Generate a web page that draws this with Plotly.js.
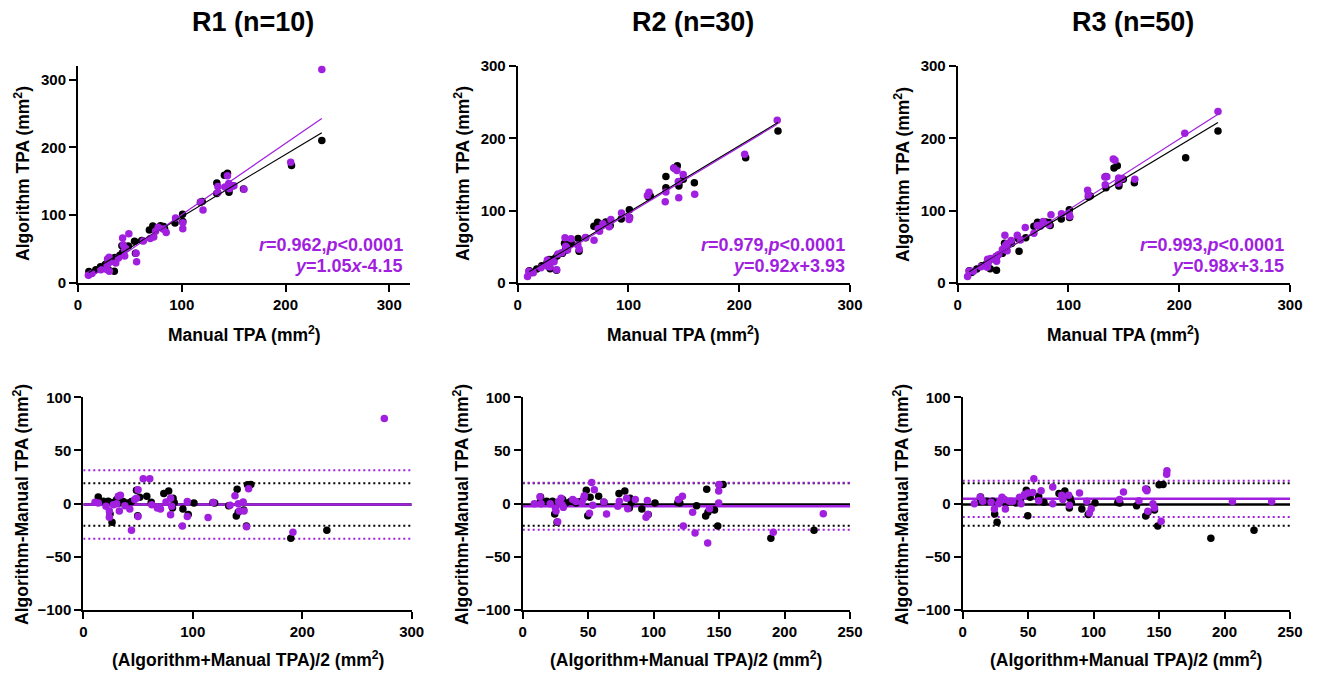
<!DOCTYPE html>
<html>
<head>
<meta charset="utf-8">
<script src="https://cdn.plot.ly/plotly-3.0.1.min.js"></script>
<style>html,body{margin:0;padding:0;background:#fff;}#chart{width:1317px;height:675px;}</style>
</head>
<body>
<div id="chart"></div>
<script>
// ---- Data ----
const panelTitles = ['R1 (n=10)', 'R2 (n=30)', 'R3 (n=50)'];

// Reference series (black), common to all panels: manual TPA and algorithm TPA (mm^2)
const manualRef = [10.5,12.5,17.2,21.7,26.3,29.3,35,28.6,32.7,35.5,40.4,43,42.3,55.4,48.5,54.5,61.4,68.8,72.1,79.5,82.5,83.5,93.5,101,100.8,118,119.7,133.8,145.5,133.8,145.5,149.5,159.5,141.1,144.1,205.8,235];
const algoRef   = [16.8,14.5,19.4,23.9,27.3,19.6,17.5,32.4,33.3,37.5,41,45,54.8,44,54.5,61.5,62.7,78.3,83.9,84.5,83.5,79.5,88.5,90.7,101.3,119,120.3,131.8,134,147.3,137.5,143.5,138.5,158.9,162,173.3,210];

// R1 (purple)
const manualR1 = [10,13.4,22,27.3,30.2,28,30.5,28.5,36.4,30,39,45,56.5,45,46,43.5,56,43,49,63,69.6,73,74.8,77.3,82,85,101,94,101,120.5,118.3,134.8,134.8,141.6,146,145.3,150.3,160,144,205,235];
const algoR1   = [11.4,14,19.5,20.3,17.4,27,30.5,35.5,29.4,37.8,37,40,31.5,49,51,56.5,44,66.5,72.5,62,65.6,68,76.3,82.3,79.5,74.5,80,96,89,107.5,119.3,133.3,142.3,141.6,139,146.8,143.3,138.2,158,178,315];

// R2 (purple)
const manualR2 = [8.9,10,14,21,27,29,35.2,26.5,26.8,30.5,32.8,36.3,39.7,45,44.1,43.3,55.5,42.7,54.3,48.2,61.2,68.9,73.9,72.7,76.9,82.6,84.1,100.6,100.7,93.7,117.1,118.5,133.2,133.8,145.4,159.8,145,149.4,143.7,141,204.9,234.3];
const algoR2   = [8.9,16.4,14,21,23,22,18.2,28.5,31.8,29.5,29.3,40.1,41.7,45.6,49.1,50.8,46.5,62.7,52.7,61.2,62.8,59.2,71.4,74.9,81.9,77.9,87.9,87.8,90.4,96.7,120.9,125.5,112.2,125.8,117.9,122.8,140.3,150,155.7,159,177.9,224.9];

// R3 (purple)
const manualR3 = [8.9,10.2,14.2,21,26.7,27.5,27.4,27,30,35.1,34.6,37.1,40.3,44.6,42.9,44.7,48.2,42.6,56.7,53.8,61,68.8,71.8,74.6,77.1,82.3,84.2,93.7,101.2,100.5,117.9,117.3,133.2,132.8,134.6,145,145.3,148.5,159.9,140.5,142,205,235];
const algoR3   = [8.9,16.5,16.4,22.3,21.7,27.5,29.6,33,33.8,30.1,36.8,39.3,46.3,44.6,51.4,54.7,58.8,66.1,59.5,66,76.6,68.8,79.6,78.4,84.9,80.7,94.2,95.9,92.4,95.8,121.7,128.3,136,146.6,146.8,137.8,145.3,144.5,143.3,171.5,169.6,207,237];

// Correlation / regression results printed in each panel (purple)
const rValues = ['0.962', '0.979', '0.993'];
const slopes = [1.05, 0.92, 0.98];
const intercepts = [-4.15, 3.93, 3.15];

// Bland-Altman bias and 95% limits of agreement
const biasRef = -0.8, lowerRef = -20.7, upperRef = 19.1;
const biasR = [-0.8, -2.4, 4.5];
const lowerR = [-32.9, -24.5, -12.5];
const upperR = [31.3, 19.7, 21.6];

// ---- Styling ----
const FONT = 'Arial, "Liberation Sans", sans-serif';
const PURPLE = '#a11fde';
const BLACK = '#000000';
const W = 1317, H = 675;
const px = x => x / W;
const py = y => 1 - y / H;

const manualSets = [manualR1, manualR2, manualR3];
const algoSets = [algoR1, algoR2, algoR3];

function linFit(xs, ys) {
  const n = xs.length;
  const mx = xs.reduce((a, b) => a + b, 0) / n;
  const my = ys.reduce((a, b) => a + b, 0) / n;
  let sxy = 0, sxx = 0;
  for (let i = 0; i < n; i++) { sxy += (xs[i] - mx) * (ys[i] - my); sxx += (xs[i] - mx) ** 2; }
  const b = sxy / sxx;
  return [b, my - b * mx];
}
const meanOf = (m, a) => m.map((v, i) => (v + a[i]) / 2);
const diffOf = (m, a) => m.map((v, i) => a[i] - v);

function axis(domain, range, dtick, anchor) {
  return {
    domain, range, dtick, tick0: 0, anchor,
    showline: true, linewidth: 2, linecolor: BLACK,
    ticks: 'outside', ticklen: 7, tickwidth: 2, tickcolor: BLACK,
    showgrid: false, zeroline: false, fixedrange: true,
    tickfont: { family: FONT, size: 15, color: BLACK, weight: 'bold' }
  };
}

const topX = [[78, 410], [517.7, 850], [957.7, 1290]];
const botX = [[83.3, 411.7], [522.7, 850], [962.7, 1290]];
const topY = [66, 283];
const botY = [397.3, 610];
const topRanges = [[0, 320], [0, 300], [0, 300]];
const botXRanges = [[0, 300], [0, 250], [0, 250]];
const botXTicks = [100, 50, 50];
const titleX = [253, 693, 1133];
const statRight = [405, 847, 1286];
const panelLeft = [0, 440, 880];

const layout = {
  width: W, height: H,
  margin: { l: 0, r: 0, t: 0, b: 0 },
  paper_bgcolor: '#fff', plot_bgcolor: '#fff',
  showlegend: false,
  font: { family: FONT, color: BLACK },
  annotations: []
};
const traces = [];
const refFit = linFit(manualRef, algoRef);
const refXmin = Math.min(...manualRef), refXmax = Math.max(...manualRef);
const MS = 7.5;

for (let p = 0; p < 3; p++) {
  const ti = p + 1, bi = p + 4;
  const txk = 'xaxis' + (ti === 1 ? '' : ti), tyk = 'yaxis' + (ti === 1 ? '' : ti);
  const tx = 'x' + (ti === 1 ? '' : ti), ty = 'y' + (ti === 1 ? '' : ti);
  const bxk = 'xaxis' + bi, byk = 'yaxis' + bi, bx = 'x' + bi, by = 'y' + bi;

  layout[txk] = axis([px(topX[p][0]), px(topX[p][1])], topRanges[p], 100, ty);
  layout[tyk] = axis([py(topY[1]), py(topY[0])], topRanges[p], 100, tx);
  layout[bxk] = axis([px(botX[p][0]), px(botX[p][1])], botXRanges[p], botXTicks[p], by);
  layout[byk] = axis([py(botY[1]), py(botY[0])], [-100, 100], 50, bx);

  const mS = manualSets[p], aS = algoSets[p];

  // --- top: scatter ---
  traces.push({ x: manualRef, y: algoRef, xaxis: tx, yaxis: ty, type: 'scatter', mode: 'markers',
    marker: { color: BLACK, size: MS }, cliponaxis: false, hoverinfo: 'skip' });
  traces.push({ x: mS, y: aS, xaxis: tx, yaxis: ty, type: 'scatter', mode: 'markers',
    marker: { color: PURPLE, size: MS }, cliponaxis: false, hoverinfo: 'skip' });
  traces.push({ x: [refXmin, refXmax], y: [refFit[1] + refFit[0] * refXmin, refFit[1] + refFit[0] * refXmax],
    xaxis: tx, yaxis: ty, type: 'scatter', mode: 'lines', line: { color: BLACK, width: 1.2 }, hoverinfo: 'skip' });
  const pmin = Math.min(...mS), pmax = Math.max(...mS);
  traces.push({ x: [pmin, pmax], y: [intercepts[p] + slopes[p] * pmin, intercepts[p] + slopes[p] * pmax],
    xaxis: tx, yaxis: ty, type: 'scatter', mode: 'lines', line: { color: PURPLE, width: 1.2 }, hoverinfo: 'skip' });

  // --- bottom: Bland-Altman ---
  const xr = botXRanges[p];
  const hline = (yv, color, dash, width) => ({ x: [xr[0], xr[1]], y: [yv, yv], xaxis: bx, yaxis: by,
    type: 'scatter', mode: 'lines', line: { color, width, dash }, hoverinfo: 'skip' });
  traces.push(hline(upperRef, BLACK, '2px,3px', 2));
  traces.push(hline(lowerRef, BLACK, '2px,3px', 2));
  traces.push(hline(biasRef, BLACK, 'solid', 2.5));
  traces.push(hline(upperR[p], PURPLE, '2px,3px', 2));
  traces.push(hline(lowerR[p], PURPLE, '2px,3px', 2));
  traces.push(hline(biasR[p], PURPLE, 'solid', 2.5));
  traces.push({ x: meanOf(manualRef, algoRef), y: diffOf(manualRef, algoRef), xaxis: bx, yaxis: by,
    type: 'scatter', mode: 'markers', marker: { color: BLACK, size: MS }, cliponaxis: false, hoverinfo: 'skip' });
  traces.push({ x: meanOf(mS, aS), y: diffOf(mS, aS), xaxis: bx, yaxis: by,
    type: 'scatter', mode: 'markers', marker: { color: PURPLE, size: MS }, cliponaxis: false, hoverinfo: 'skip' });

  // --- texts ---
  const A = layout.annotations;
  A.push({ text: panelTitles[p], xref: 'paper', yref: 'paper', x: px(titleX[p]), y: py(22),
    xanchor: 'center', yanchor: 'middle', showarrow: false,
    font: { family: FONT, size: 27, color: BLACK, weight: 'bold' } });
  const sgn = intercepts[p] < 0 ? '-' : '+';
  A.push({ text: '<i>r</i>=' + rValues[p] + ',<i>p</i>&lt;0.0001', xref: 'paper', yref: 'paper',
    x: px(statRight[p]), y: py(245), xanchor: 'right', yanchor: 'middle', showarrow: false,
    font: { family: FONT, size: 18, color: PURPLE, weight: 'bold' } });
  A.push({ text: '<i>y</i>=' + slopes[p].toFixed(2) + '<i>x</i>' + sgn + Math.abs(intercepts[p]).toFixed(2),
    xref: 'paper', yref: 'paper', x: px(statRight[p]), y: py(266), xanchor: 'right', yanchor: 'middle',
    showarrow: false, font: { family: FONT, size: 18, color: PURPLE, weight: 'bold' } });
  const tfont = { family: FONT, size: 17.5, color: BLACK, weight: 'bold' };
  A.push({ text: 'Algorithm TPA (mm<sup>2</sup>)', xref: 'paper', yref: 'paper',
    x: px(panelLeft[p] + 22), y: py(174), textangle: -90, xanchor: 'center', yanchor: 'middle',
    showarrow: false, font: tfont });
  A.push({ text: 'Manual TPA (mm<sup>2</sup>)', xref: 'paper', yref: 'paper',
    x: px((topX[p][0] + topX[p][1]) / 2), y: py(334), xanchor: 'center', yanchor: 'middle',
    showarrow: false, font: tfont });
  A.push({ text: 'Algorithm-Manual TPA (mm<sup>2</sup>)', xref: 'paper', yref: 'paper',
    x: px(panelLeft[p] + 21), y: py(505), textangle: -90, xanchor: 'center', yanchor: 'middle',
    showarrow: false, font: tfont });
  A.push({ text: '(Algorithm+Manual TPA)/2 (mm<sup>2</sup>)', xref: 'paper', yref: 'paper',
    x: px((botX[p][0] + botX[p][1]) / 2), y: py(659), xanchor: 'center', yanchor: 'middle',
    showarrow: false, font: tfont });
}

Plotly.newPlot('chart', traces, layout, { displayModeBar: false, staticPlot: true });
</script>
</body>
</html>
